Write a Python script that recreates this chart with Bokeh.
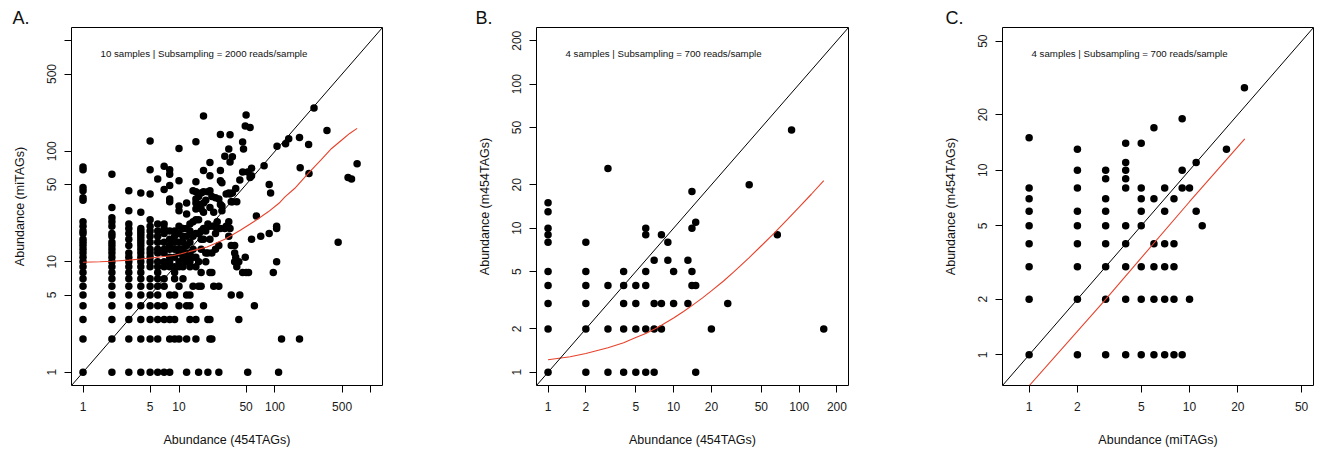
import math
from bokeh.plotting import figure
from bokeh.models import Range1d, FixedTicker, Label, Slope, Title
from bokeh.layouts import row
from bokeh.embed import file_html
from bokeh.resources import INLINE

FONT = "Liberation Sans"

# ---------------- Panel A: miTAGs vs 454TAGs ----------------
a_cols = [1, 2, 3, 4, 5, 6, 7, 8, 9, 10, 11, 12, 13, 14, 15, 16, 17, 18, 19, 20,
          21, 22, 23, 24, 25, 26, 27, 28, 30, 31, 33, 34, 35, 36, 38, 39, 40, 42, 43, 46,
          47, 49, 50, 52, 53, 55, 57, 61, 64, 71, 77, 87, 90, 96, 104, 105, 109, 117, 129, 139,
          180, 183, 224, 226, 255, 348, 455, 577, 627, 717]
a_vals = [
    [1, 2, 3, 4, 5, 6, 7, 8, 9, 10, 11, 12, 13, 14, 15, 16, 18, 19, 21, 23, 36, 38, 44, 47, 68, 72],
    [1, 2, 3, 4, 5, 6, 7, 8, 9, 10, 11, 12, 13, 14, 15, 17, 18, 21, 23, 25, 31, 62],
    [1, 2, 3, 4, 5, 6, 7, 8, 9, 10, 11, 12, 14, 16, 18, 20, 22, 29, 44],
    [1, 2, 3, 4, 5, 6, 7, 8, 9, 10, 11, 12, 13, 14, 15, 16, 17, 18, 19, 20, 28, 42],
    [1, 2, 3, 4, 5, 6, 7, 9, 10, 11, 12, 13, 15, 17, 19, 21, 24, 41, 68, 124],
    [1, 2, 3, 4, 5, 6, 7, 8, 9, 10, 12, 13, 15, 17, 19, 22, 56],
    [1, 3, 4, 6, 7, 9, 10, 12, 13, 15, 18, 20, 22, 45, 73],
    [1, 2, 3, 5, 9, 10, 11, 13, 14, 16, 19, 35, 37, 49, 62, 68],
    [2, 3, 5, 7, 8, 9, 11, 13, 15, 17, 19],
    [2, 4, 6, 9, 10, 12, 13, 15, 18, 21, 29, 32, 54, 106],
    [7, 9, 10, 11, 13, 15, 17, 20],
    [1, 2, 4, 5, 10, 11, 12, 14, 17, 20, 27, 34],
    [3, 4, 5, 9, 10, 12, 15, 19, 22],
    [6, 11, 13, 17, 23, 44],
    [2, 3, 9, 11, 18, 24, 30, 34, 37, 43, 53, 122],
    [1, 6, 10, 18, 24, 33, 39],
    [6, 8, 13, 16, 19, 30, 42],
    [4, 16, 20, 28, 34, 43, 67, 208],
    [10, 12, 19, 36],
    [1, 3, 12, 22, 43],
    [2, 3, 8, 16, 21, 31, 44, 60, 79],
    [2, 8, 12, 39],
    [6, 21, 28],
    [13, 18, 38],
    [20, 23],
    [1, 6, 14, 20, 37],
    [20, 33, 54, 67, 142],
    [29, 32, 52],
    [20, 90],
    [21, 41],
    [17, 23, 42, 105],
    [20, 41, 80, 141],
    [5, 14, 35],
    [35, 42, 89],
    [10, 12, 14],
    [11, 46],
    [9, 35],
    [3, 10],
    [5, 55],
    [8, 65, 121],
    [105],
    [11, 169],
    [8, 213],
    [1, 65],
    [8],
    [58, 164],
    [16, 60, 70],
    [4],
    [26],
    [17],
    [74],
    [18, 50],
    [42],
    [8],
    [10, 20, 21],
    [111],
    [1],
    [2],
    [117],
    [130],
    [2, 133],
    [71],
    [115],
    [63],
    [246],
    [154],
    [15],
    [58],
    [56],
    [77],
]
a_fit_x = [1, 1.5, 2, 3, 4, 6, 8.8, 10.5, 15, 19.6, 30, 43.5, 60, 85, 110, 127, 160, 222,
           300, 389, 500, 600, 717]
a_fit_y = [9.9, 10.0, 10.1, 10.35, 10.6, 11.0, 11.4, 11.8, 12.8, 13.6, 16.0, 19.3, 23.0,
           28.3, 33.8, 38.6, 46, 63, 83, 106, 127, 145, 161]
a_ticks = [1, 5, 10, 50, 100, 500, 1000]
a_tick_labels = ["1", "5", "10", "50", "100", "500", ""]

# ---------------- Panel B: m454TAGs vs 454TAGs ----------------
b_cols = [1, 2, 3, 4, 5, 6, 7, 8, 9, 10, 13, 14, 15, 20, 27, 40, 67, 87, 157]
b_vals = [
    [1, 2, 3, 4, 5, 8, 9, 10, 13, 15],
    [1, 2, 3, 4, 5, 8],
    [1, 2, 4, 26],
    [1, 2, 3, 4, 5],
    [1, 2, 3, 4],
    [1, 2, 4, 5, 9, 10],
    [1, 2, 3, 6],
    [2, 3, 9],
    [6, 8],
    [3, 5],
    [3, 6],
    [4, 5, 10, 18],
    [1, 4, 11],
    [2],
    [3],
    [20],
    [9],
    [48],
    [2],
]
b_fit_x = [1, 1.5, 2, 3, 4, 5, 6, 7, 8, 10, 12, 14, 17, 20, 25, 30, 34, 40, 50, 63, 80,
           100, 125, 157]
b_fit_y = [1.22, 1.28, 1.35, 1.48, 1.6, 1.74, 1.86, 1.99, 2.12, 2.38, 2.64, 2.9, 3.28,
           3.67, 4.3, 4.95, 5.48, 6.25, 7.55, 9.2, 11.4, 14.0, 17.2, 21.4]
b_ticks = [1, 2, 5, 10, 20, 50, 100, 200]
b_tick_labels = ["1", "2", "5", "10", "20", "50", "100", "200"]

# ---------------- Panel C: m454TAGs vs miTAGs ----------------
c_cols = [1, 2, 3, 4, 5, 6, 7, 8, 9, 10, 11, 12, 17, 22]
c_vals = [
    [1, 2, 3, 4, 5, 6, 7, 8, 15],
    [1, 2, 3, 4, 5, 6, 8, 10, 13],
    [1, 2, 3, 4, 5, 6, 7, 9, 10],
    [1, 2, 3, 4, 5, 8, 9, 10, 11, 14],
    [1, 2, 3, 5, 6, 7, 8, 14],
    [1, 2, 3, 4, 7, 17],
    [1, 2, 3, 4, 6, 8],
    [1, 2, 3, 4, 7],
    [1, 8, 10, 19],
    [2, 8],
    [6, 11],
    [5],
    [13],
    [28],
]
c_fit_x = [1, 3, 10, 22.1]
c_fit_y = [0.68, 2.0, 6.75, 14.8]
c_ticks = [1, 2, 5, 10, 20, 50]
c_tick_labels = ["1", "2", "5", "10", "20", "50"]

FRAME_H = 358
TOP = 27
HEIGHT = 459


def panel(letter, letter_dx, cols, vals, fx, fy, lo, hi, ticks, tick_labels,
          xlabel, ylabel, note, bl, br, fw):
    xs, ys = [], []
    for c, vs in zip(cols, vals):
        for v in vs:
            xs.append(c)
            ys.append(v)
    title = Title(text=letter, align="left", offset=letter_dx, text_font=FONT,
                  text_font_size="18px", text_font_style="normal", text_color="#111111",
                  standoff=0, vertical_align="bottom")
    p = figure(width=bl + fw + br, height=HEIGHT, title=title,
               x_axis_type="log", y_axis_type="log",
               x_range=Range1d(10 ** lo, 10 ** hi), y_range=Range1d(10 ** lo, 10 ** hi),
               output_backend="svg", toolbar_location=None,
               min_border_left=bl, min_border_right=br, min_border_top=TOP,
               min_border_bottom=HEIGHT - TOP - FRAME_H)
    p.xgrid.visible = False
    p.ygrid.visible = False
    p.outline_line_color = "black"
    p.outline_line_width = 1
    p.outline_line_alpha = 1
    overrides = {t: l for t, l in zip(ticks, tick_labels)}
    for ax in (p.xaxis[0], p.yaxis[0]):
        ax.ticker = FixedTicker(ticks=ticks, minor_ticks=[])
        ax.major_label_overrides = overrides
        ax.axis_line_color = None
        ax.major_tick_in = 0
        ax.major_tick_out = 7
        ax.major_tick_line_color = "black"
        ax.minor_tick_in = 0
        ax.minor_tick_out = 0
        ax.major_label_text_font = FONT
        ax.major_label_text_font_size = "12px"
        ax.major_label_text_color = "#1a1a1a"
        ax.axis_label_text_font = FONT
        ax.axis_label_text_font_size = "12.5px"
        ax.axis_label_text_font_style = "normal"
        ax.axis_label_text_color = "#111111"
    p.xaxis.major_label_standoff = 9
    p.yaxis.major_label_standoff = 8
    p.yaxis.major_label_orientation = "vertical"
    p.xaxis.axis_label = xlabel
    p.yaxis.axis_label = ylabel
    p.xaxis.axis_label_standoff = 19
    p.yaxis.axis_label_standoff = 18

    p.scatter(xs, ys, size=7.5, fill_color="black", line_color=None)
    p.add_layout(Slope(gradient=1, y_intercept=0, line_color="black", line_width=1))
    p.line(fx, fy, line_color="#e8412a", line_width=1.1)

    p.add_layout(Label(x=29, y=FRAME_H - 26.3, x_units="screen", y_units="screen", text=note,
                       text_font=FONT, text_font_size="9.7px", text_align="left",
                       text_baseline="middle", text_color="#111111"))
    return p


pA = panel("A.", -59, a_cols, a_vals, a_fit_x, a_fit_y, -0.12, 3.12, a_ticks, a_tick_labels,
           "Abundance (454TAGs)", "Abundance (miTAGs)",
           "10 samples | Subsampling = 2000 reads/sample", 71, 84, 311)
pB = panel("B.", -61, b_cols, b_vals, b_fit_x, b_fit_y, -0.092, 2.393, b_ticks, b_tick_labels,
           "Abundance (454TAGs)", "Abundance (m454TAGs)",
           "4 samples | Subsampling = 700 reads/sample", 70, 84, 312)
pC = panel("C.", -57, c_cols, c_vals, c_fit_x, c_fit_y, -0.166, 1.773, c_ticks, c_tick_labels,
           "Abundance (miTAGs)", "Abundance (m454TAGs)",
           "4 samples | Subsampling = 700 reads/sample", 70, 6, 311)

layout = row(pA, pB, pC)
open("out.html", "w").write(file_html(layout, INLINE))
